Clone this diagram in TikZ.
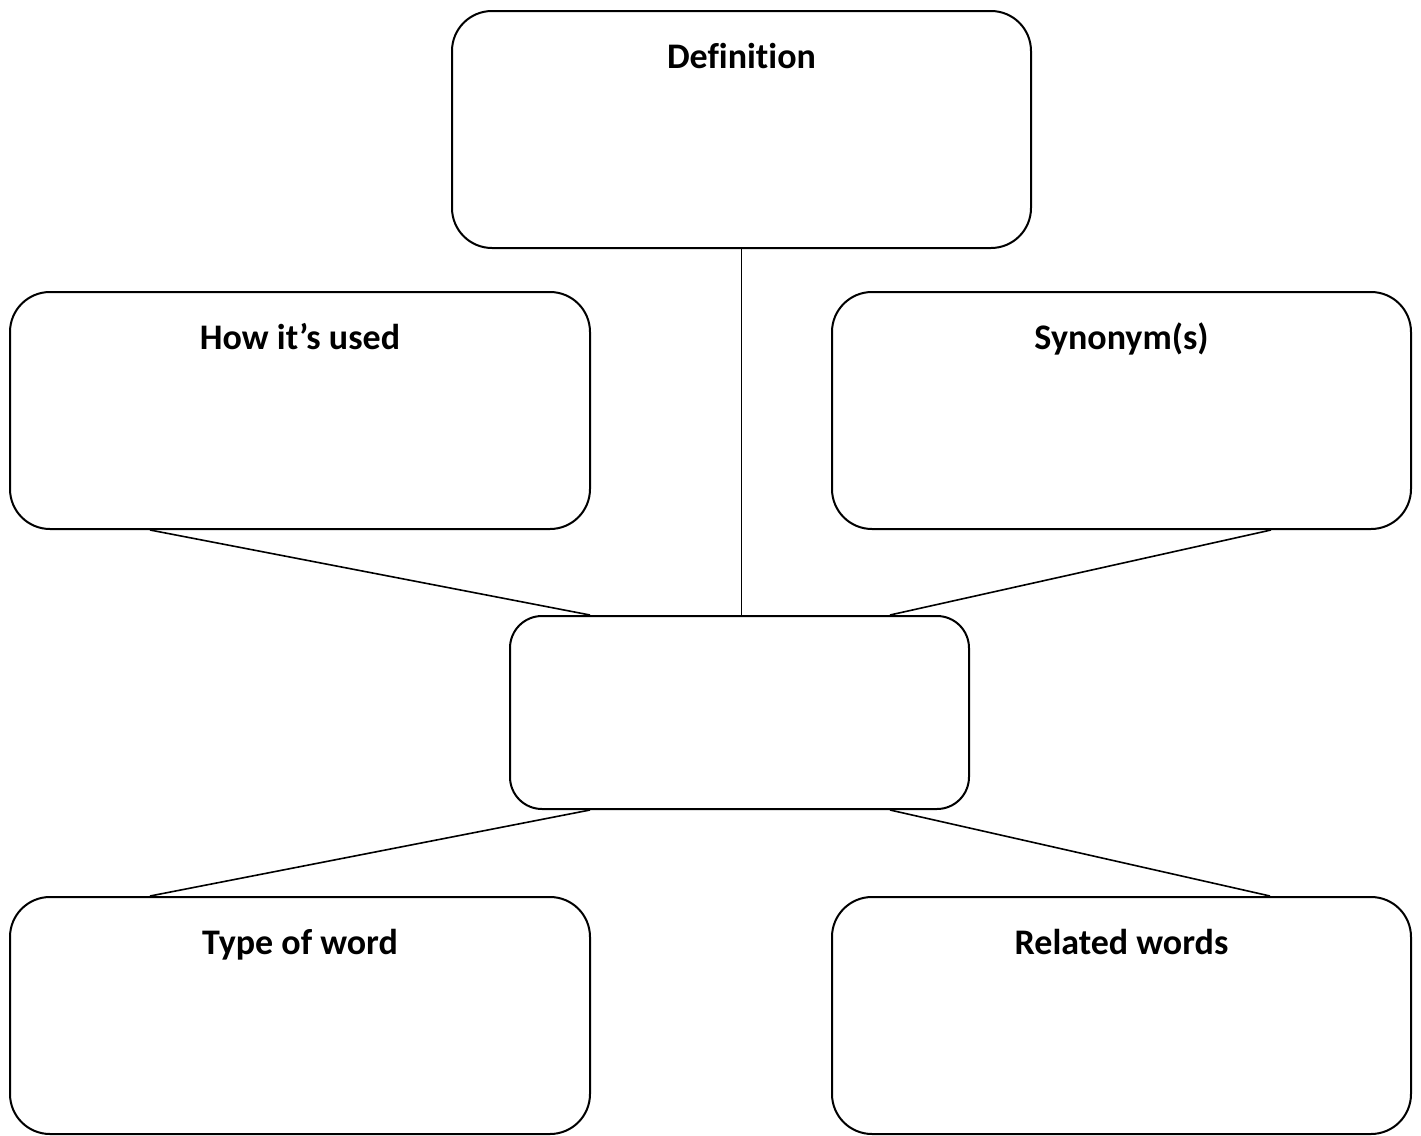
\documentclass[tikz,border=0pt]{standalone}
\usepackage{fontspec}
\setmainfont[Ligatures=NoCommon]{Carlito}
\begin{document}
\begin{tikzpicture}[x=0.5pt,y=-0.5pt,
  box/.style={draw=black,line width=1pt,rounded corners=20pt,inner sep=0pt},
  lbl/.style={font=\bfseries\fontsize{18}{21}\selectfont,anchor=base,yshift=-29pt,inner sep=0pt},
  link/.style={draw=black,line width=0.8pt}]
\useasboundingbox (0,0) rectangle (1421,1136);
\fill[white] (0,0) rectangle (1421,1136);
\node[box,minimum width=289.5pt,minimum height=118.5pt,label={[lbl]north:Definition}] (def) at (741.5,129.5) {};
\node[box,minimum width=290pt,minimum height=118.5pt,label={[lbl]north:How it’s used}] (how) at (300,410.5) {};
\node[box,minimum width=289.5pt,minimum height=118.5pt,label={[lbl]north:Synonym(s)}] (syn) at (1121.5,410.5) {};
\node[box,minimum width=229.5pt,minimum height=96.5pt,rounded corners=16pt] (word) at (739.5,712.5) {};
\node[box,minimum width=290pt,minimum height=118.5pt,label={[lbl]north:Type of word}] (type) at (300,1015.5) {};
\node[box,minimum width=289.5pt,minimum height=118.5pt,label={[lbl]north:Related words}] (rel) at (1121.5,1015.5) {};
\draw[link] (def.south) -- (def.south |- word.north);
\draw[link] ([xshift=-75pt]how.south) -- ([xshift=-74.75pt]word.north);
\draw[link] ([xshift=74.75pt]syn.south) -- ([xshift=75.25pt]word.north);
\draw[link] ([xshift=-74.75pt]word.south) -- ([xshift=-75pt]type.north);
\draw[link] ([xshift=75.25pt]word.south) -- ([xshift=74.25pt]rel.north);
\end{tikzpicture}
\end{document}
